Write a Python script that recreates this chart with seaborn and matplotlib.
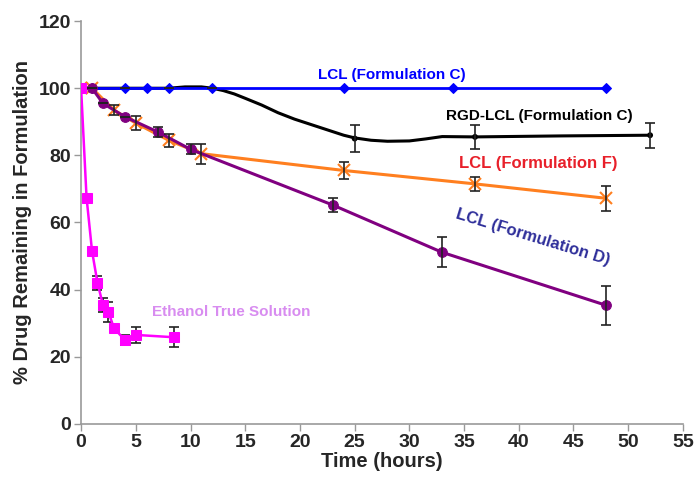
import numpy as np
import pandas as pd
import seaborn as sns
from matplotlib import pyplot as plt

# LCL (Formulation C) - no loss
t_c = [0, 1, 4, 6, 8, 12, 24, 34, 48]
y_c = [100, 100, 100, 100, 100, 100, 100, 100, 100]

# RGD-LCL (Formulation C), measured points
t_rgd = [0, 1, 4, 8, 12, 25, 36, 52]
y_rgd = [100, 100, 100, 100, 100, 85, 85.5, 86]
e_rgd = [0, 0, 0, 0, 0, 4, 3.5, 3.7]
# RGD-LCL curve
t_rgd_curve = [0, 1, 4, 8, 9.5, 11, 12, 13, 14, 15, 16.5, 18, 19.5, 21, 22.5, 24, 25,
               26.5, 28, 30, 31.5, 33, 36, 44, 52]
y_rgd_curve = [100, 100, 100, 100, 100.4, 100.4, 100, 99.3, 98.3, 97, 95, 92.7, 90.8, 89.2,
               87.6, 86, 85.2, 84.5, 84.2, 84.3, 84.9, 85.6, 85.5, 85.8, 86]

# LCL (Formulation F)
t_f = [0, 1, 3, 5, 8, 11, 24, 36, 48]
y_f = [100, 100, 93.5, 89.6, 84.5, 80.5, 75.5, 71.5, 67.2]
e_f = [0, 0, 1.5, 2, 2, 3, 2.5, 2, 3.7]

# LCL (Formulation D)
t_d = [0, 1, 2, 4, 7, 10, 23, 33, 48]
y_d = [100, 100, 95.5, 91.5, 87, 81.8, 65.2, 51.1, 35.3]
e_d = [0, 0, 0, 0, 1.5, 1.5, 2, 4.5, 5.7]

# Ethanol True Solution
t_e = [0, 0.5, 1, 1.5, 2, 2.5, 3, 4, 5, 8.5]
y_e = [100, 67.4, 51.5, 42, 35.4, 33.4, 28.5, 25, 26.5, 25.8]
e_e = [0, 0, 0, 2, 2, 3, 0, 1.5, 2.5, 3]

sns.set_style("white")
plt.rcParams["font.family"] = ["Liberation Sans", "DejaVu Sans"]
plt.rcParams["font.weight"] = "bold"

fig, ax = plt.subplots(figsize=(6.99, 4.8), dpi=100)
fig.subplots_adjust(left=0.116, right=0.977, bottom=0.117, top=0.956)

BLUE = "#0000ff"
ORANGE = "#ff7f1f"
PURPLE = "#800080"
MAGENTA = "#ff00ff"

err_kw = dict(fmt="none", ecolor="#222222", elinewidth=1.2, capsize=3.5, capthick=1.2, zorder=4)

# black RGD line
sns.lineplot(x=t_rgd_curve, y=y_rgd_curve, ax=ax, color="black", lw=2.2, sort=False, zorder=2)
ax.errorbar(t_rgd, y_rgd, yerr=e_rgd, **err_kw)
sns.scatterplot(x=t_rgd, y=y_rgd, ax=ax, color="black", s=18, edgecolor="none", zorder=3)

# blue formulation C
sns.lineplot(x=t_c, y=y_c, ax=ax, color=BLUE, lw=2, marker="D", markersize=5,
             markeredgecolor=BLUE, zorder=3)

# orange formulation F
ax.errorbar(t_f, y_f, yerr=e_f, **err_kw)
sns.lineplot(x=t_f, y=y_f, ax=ax, color=ORANGE, lw=2.2, marker="x", markersize=9,
             markeredgewidth=1.5, markeredgecolor=ORANGE, zorder=3)

# purple formulation D
ax.errorbar(t_d, y_d, yerr=e_d, **err_kw)
sns.lineplot(x=t_d, y=y_d, ax=ax, color=PURPLE, lw=2.2, marker="o", markersize=7,
             markeredgecolor=PURPLE, zorder=3)

# ethanol
ax.errorbar(t_e, y_e, yerr=e_e, **err_kw)
sns.lineplot(x=t_e, y=y_e, ax=ax, color=MAGENTA, lw=1.8, marker="s", markersize=7.5,
             markeredgecolor=MAGENTA, zorder=5)

ax.set_xlim(0, 55)
ax.set_ylim(0, 120)
ax.set_xticks(np.arange(0, 56, 5))
ax.set_yticks(np.arange(0, 121, 20))
ax.set_xlabel("Time (hours)", fontsize=14.5, fontweight="bold", labelpad=1)
ax.set_ylabel("% Drug Remaining in Formulation", fontsize=14.5, fontweight="bold", labelpad=5)
ax.tick_params(axis="both", labelsize=14, length=5, width=1, color="#999999", direction="out",
               bottom=True, left=True, pad=2)
for lab in ax.get_xticklabels() + ax.get_yticklabels():
    lab.set_fontweight("bold")
sns.despine(ax=ax)
for side in ["left", "bottom"]:
    ax.spines[side].set_color("#999999")
    ax.spines[side].set_linewidth(1.2)

ax.text(28.4, 104, "LCL (Formulation C)", color=BLUE, fontsize=11, fontweight="bold",
        ha="center", va="center")
ax.text(41.9, 91.6, "RGD-LCL (Formulation C)", color="black", fontsize=11, fontweight="bold",
        ha="center", va="center")
ax.text(41.8, 77.5, "LCL (Formulation F)", color="#e8202a", fontsize=12, fontweight="bold",
        ha="center", va="center")
ax.text(41.3, 55.5, "LCL (Formulation D)", color="#2e2e9a", fontsize=12, fontweight="bold",
        ha="center", va="center", rotation=-17)
ax.text(6.5, 33.2, "Ethanol True Solution", color="#d88cf0", fontsize=11, fontweight="bold",
        ha="left", va="center")

fig.savefig("out.png", dpi=100)
